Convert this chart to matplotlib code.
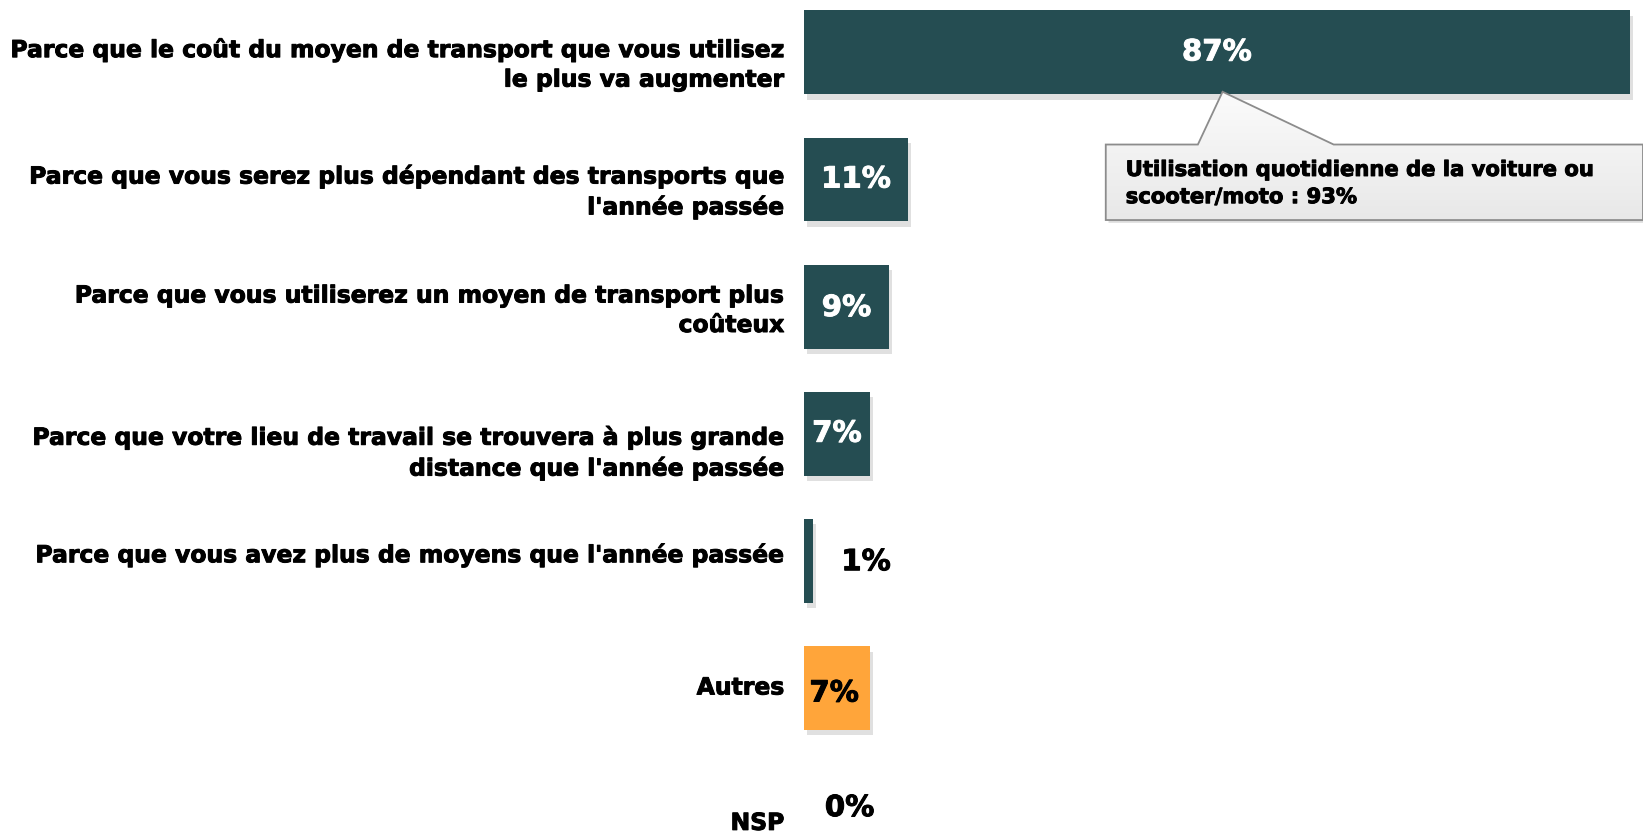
import matplotlib
matplotlib.use("Agg")
import matplotlib.pyplot as plt
import matplotlib.patheffects as pe
from matplotlib.patches import Polygon
import numpy as np

categories = [
    "Parce que le coût du moyen de transport que vous utilisez\nle plus va augmenter",
    "Parce que vous serez plus dépendant des transports que\nl'année passée",
    "Parce que vous utiliserez un moyen de transport plus\ncoûteux",
    "Parce que votre lieu de travail se trouvera à plus grande\ndistance que l'année passée",
    "Parce que vous avez plus de moyens que l'année passée",
    "Autres",
    "NSP",
]
values = [87, 11, 9, 7, 1, 7, 0]
value_labels = ["87%", "11%", "9%", "7%", "1%", "7%", "0%"]
callout_text = "Utilisation quotidienne de la voiture ou\nscooter/moto : 93%"

# style
TEAL = "#254d52"
ORANGE = "#ffa53a"
bar_colors = [TEAL, TEAL, TEAL, TEAL, TEAL, ORANGE, TEAL]
label_nudge_pt = [-9, -9, -3, -14, 4, 0, -6]       # vertical nudge of category labels
val_color = ["white", "white", "white", "white", "black", "black", "black"]
val_outside = [False, False, False, False, True, False, True]
val_nudge = [(0, 0), (0, 0), (0, -1), (0, 0), (0, -1), (-2, -4), (-5, 5)]

plt.rcParams['font.family'] = ['DejaVu Sans']

fig = plt.figure(figsize=(16.43, 8.34), dpi=100)
ax = fig.add_axes([0.4892, 0.0, 0.5108, 1.0])
y = np.arange(len(values))
bh = 0.66
shadow = [pe.SimplePatchShadow(offset=(2, -4), shadow_rgbFace="#9a9a9a", alpha=0.3), pe.Normal()]
bars = ax.barh(y, values, height=bh, color=bar_colors, zorder=3)
for b, v in zip(bars, values):
    if v > 0:
        b.set_path_effects(shadow)

ax.set_xlim(0, 88.37)
ax.set_ylim(6.149, -0.412)
ax.axis("off")

black_stroke = [pe.withStroke(linewidth=0.7, foreground="black")]

# category labels
for i, lab in enumerate(categories):
    ax.annotate(lab, xy=(0, i), xycoords="data", xytext=(-14, label_nudge_pt[i]),
                textcoords="offset points", ha="right", va="center", multialignment="right",
                fontsize=16.9, fontweight="bold", color="black", linespacing=1.36,
                path_effects=black_stroke)

# value labels
for i, (v, t) in enumerate(zip(values, value_labels)):
    dx, dy = val_nudge[i]
    stroke = [pe.withStroke(linewidth=0.7, foreground=val_color[i])]
    if val_outside[i]:
        ax.annotate(t, xy=(v, i), xytext=(38 + dx, dy), textcoords="offset points",
                    ha="center", va="center", fontsize=21, fontweight="bold", color=val_color[i],
                    path_effects=stroke)
    else:
        ax.annotate(t, xy=(v / 2, i), xytext=(dx, dy), textcoords="offset points",
                    ha="center", va="center", fontsize=21, fontweight="bold", color=val_color[i],
                    path_effects=stroke)

# callout
bx0, bx1 = 31.8, 88.37
by0, by1 = 0.725, 1.319
tip = (values[0] / 2 + 0.6, 0 + bh / 2 - 0.02)
base_l, base_r = 41.5, 55.8
pts = [(bx0, by0), (base_l, by0), tip, (base_r, by0), (bx1, by0), (bx1, by1), (bx0, by1)]
# soft shadow under the box
shadow_poly = Polygon(pts, closed=True, facecolor="#bbbbbb", edgecolor="none", alpha=0.5, zorder=3.5,
                      path_effects=[pe.Stroke(offset=(2, -2))])
ax.add_patch(shadow_poly)
grad = np.linspace(0.985, 0.91, 100).reshape(-1, 1)
im = ax.imshow(np.dstack([grad, grad, grad]), extent=(bx0, bx1, by1, tip[1]), aspect="auto",
               zorder=4, interpolation="bilinear")
clip = Polygon(pts, closed=True, transform=ax.transData, facecolor="none", edgecolor="none")
ax.add_patch(clip)
im.set_clip_path(clip)
poly = Polygon(pts, closed=True, facecolor="none", edgecolor="#8c8c8c", linewidth=1.3, zorder=5)
ax.add_patch(poly)
ax.set_xlim(0, 88.37)
ax.set_ylim(6.149, -0.412)
ax.text(bx0 + 2.1, (by0 + by1) / 2 + 0.01, callout_text, ha="left", va="center", fontsize=15.2,
        fontweight="bold", color="black", linespacing=1.45, zorder=6, path_effects=black_stroke)

fig.savefig("out.png", dpi=100)
